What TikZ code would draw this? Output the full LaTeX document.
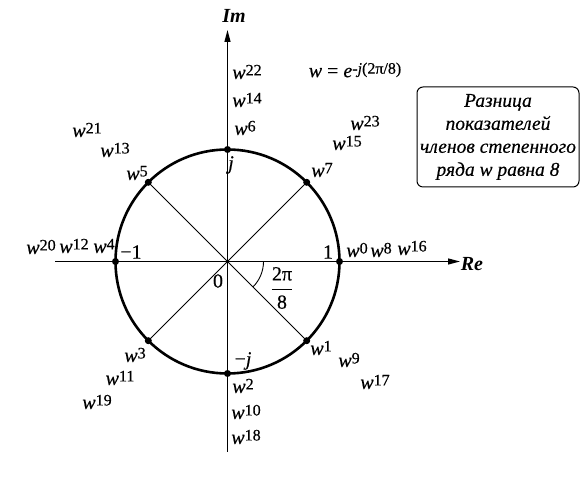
\documentclass[tikz,border=0pt]{standalone}
\usepackage{fontspec}
\setmainfont{Liberation Serif}[UprightFeatures={FakeBold=0.4},ItalicFeatures={FakeBold=0.4}]
\usetikzlibrary{arrows.meta,calc}
\newcommand\wx[1]{{\itshape w}\raisebox{3.5pt}{\fontsize{16}{16}\selectfont #1}}
\tikzset{
  lbl/.style={inner sep=0pt, font=\fontsize{20}{20}\selectfont},
  axis/.style={line width=1.3pt, -{Triangle[length=12pt,width=6pt]}},
  ray/.style={line width=0.9pt},
  dot/.style={circle, fill=black, inner sep=0pt, minimum size=7pt},
  notebox/.style={draw, line width=1pt, rounded corners=6pt, minimum width=162pt, minimum height=100pt,
    align=center, inner sep=0pt, font=\fontsize{19.5}{23}\selectfont\itshape}
}
\begin{document}
\begin{tikzpicture}[x=1pt,y=1pt]
\useasboundingbox (0,0) rectangle (581,494);
\coordinate (O) at (227.5,232.5);
\coordinate (vb) at (227.5,42);
\coordinate (vt) at (227.5,464);
\coordinate (hl) at (55,232.5);
\coordinate (hr) at (460,232.5);
% axes
\draw[axis] (vb) -- (vt);
\draw[axis] (hl) -- (hr);
% circle
\draw[line width=2.6pt] (O) circle[radius=112];
% points
\foreach \k in {0,...,7} {
  \node[dot] (p\k) at ($(O)+(-\k*45:112)$) {};
}
\foreach \k in {1,3,5,7} {
  \draw[ray] (O) -- (p\k.center);
}
% angle arc
\draw[line width=0.9pt] ([shift={(0:36)}]O) arc[start angle=0,end angle=-45,radius=36];
% axis labels
\node[lbl, font=\fontsize{20}{20}\selectfont\bfseries\itshape] (im) at (234,478) {Im};
\node[lbl, font=\fontsize{20}{20}\selectfont\bfseries\itshape] (re) at (472,230) {Re};
\node[lbl] (w) at (355,424) {{\itshape w} = {\itshape e}\raisebox{3.5pt}{\fontsize{16}{16}\selectfont -\textit{j}(2π/8)}};
% top
\node[lbl] (w22) at (247,422) {\wx{22}};
\node[lbl] (w14) at (247,394) {\wx{14}};
\node[lbl] (w6) at (245,366) {\wx{6}};
\node[lbl] (jj) at (231,329) {\itshape j};
% upper right
\node[lbl] (w23) at (365,371) {\wx{23}};
\node[lbl] (w15) at (347,351) {\wx{15}};
\node[lbl] (w7) at (322,324) {\wx{7}};
% upper left
\node[lbl] (w21) at (87,364) {\wx{21}};
\node[lbl] (w13) at (115,344) {\wx{13}};
\node[lbl] (w5) at (137,321) {\wx{5}};
% left
\node[lbl] (w20) at (41,247) {\wx{20}};
\node[lbl] (w12) at (74,248) {\wx{12}};
\node[lbl] (w4) at (104,248) {\wx{4}};
\node[lbl] (m1) at (131,242) {−1};
\node[lbl] (zero) at (218,213) {0};
% right
\node[lbl] (one) at (328,242) {1};
\node[lbl] (w0) at (357,244) {\wx{0}};
\node[lbl] (w8) at (381,244) {\wx{8}};
\node[lbl] (w16) at (412,246) {\wx{16}};
\node[lbl] (frac) at (282,206) {$\displaystyle\frac{\hbox{2π}}{\hbox{8}}$};
% lower right
\node[lbl] (w1) at (321,146) {\wx{1}};
\node[lbl] (w9) at (349,134) {\wx{9}};
\node[lbl] (w17) at (375,112) {\wx{17}};
% lower left
\node[lbl] (w3) at (135,139) {\wx{3}};
\node[lbl] (w11) at (120,116) {\wx{11}};
\node[lbl] (w19) at (97,92) {\wx{19}};
% bottom
\node[lbl] (mj) at (243,133) {−\textit{j}};
\node[lbl] (w2) at (243,108) {\wx{2}};
\node[lbl] (w10) at (246,82) {\wx{10}};
\node[lbl] (w18) at (246,57) {\wx{18}};
% note box
\node[notebox] (note) at (498,357) {Разница\\показателей\\членов степенного\\ряда w равна 8};
\end{tikzpicture}
\end{document}
